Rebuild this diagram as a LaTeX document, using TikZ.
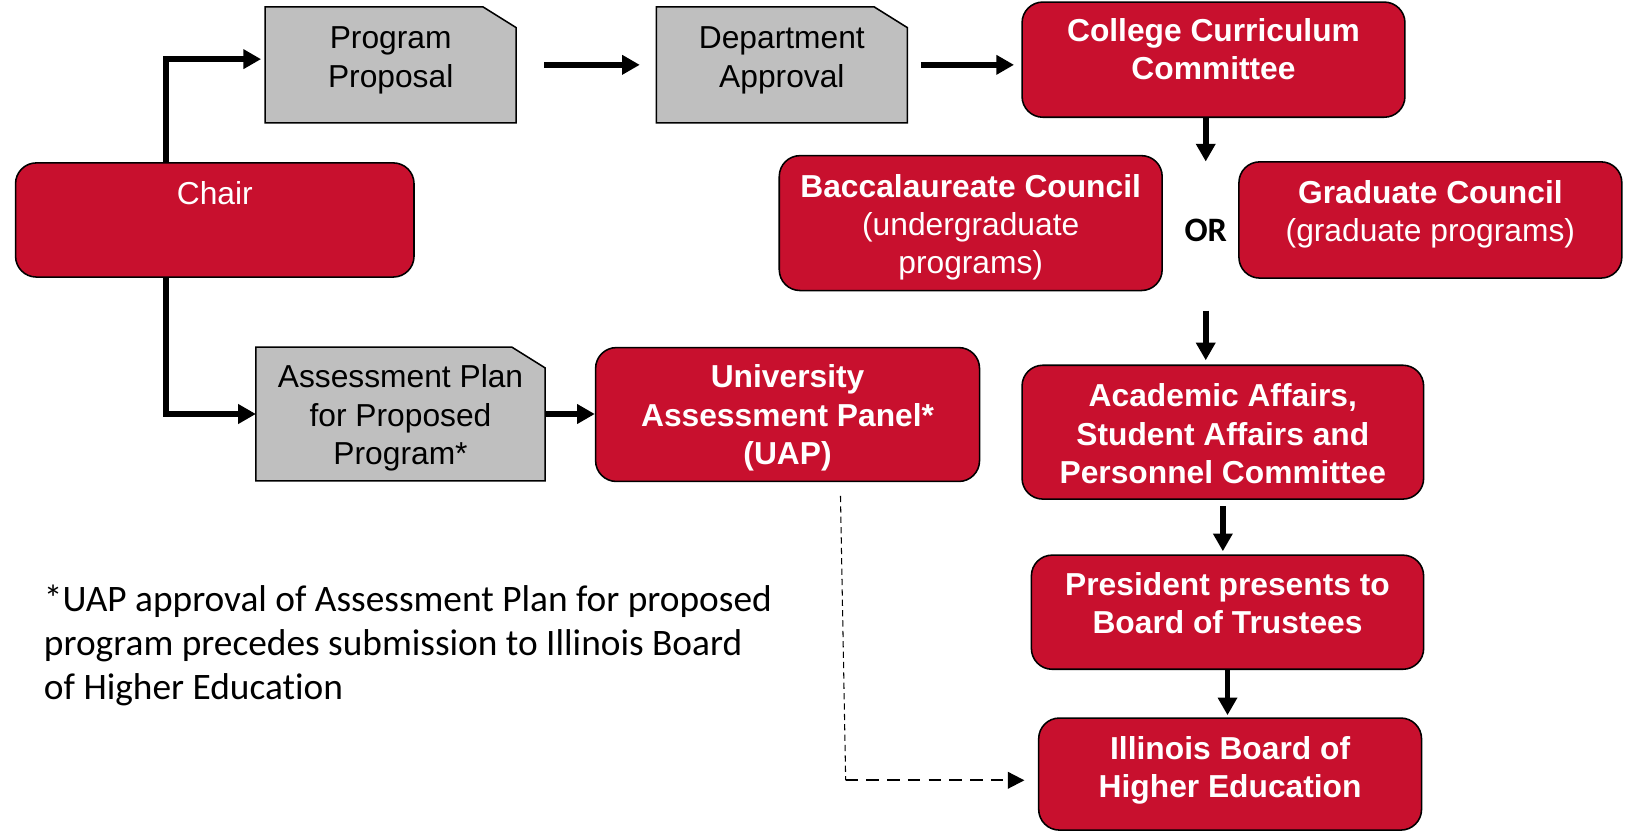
\documentclass[tikz,border=0pt]{standalone}
\usepackage{fontspec}
\setmainfont{Liberation Sans}
\newfontfamily\notefont[Ligatures=NoCommon]{Carlito}
\usetikzlibrary{arrows.meta,backgrounds}
\definecolor{isured}{RGB}{200,16,46}
\definecolor{docgray}{RGB}{191,191,191}
\newcommand{\boxlines}[2][0pt]{\begin{tabular}{@{}c@{}}#2\\[#1]\end{tabular}}
\tikzset{
	redbox/.style={draw=black, line width=0.75pt, fill=isured, text=white, rounded corners=10pt, inner sep=0pt, font=\fontsize{15.3}{18.5}\selectfont\bfseries},
	docbox/.style={inner sep=0pt, font=\fontsize{15.3}{18.5}\selectfont},
	docline/.style={draw=black, line width=0.75pt, fill=docgray},
	flow/.style={line width=2.8pt, -{Triangle[length=8.5pt,width=9pt]}},
	dashflow/.style={line width=1pt, dash pattern=on 6pt off 4pt, -{Triangle[length=8pt,width=8pt]}}
}
\begin{document}
\begin{tikzpicture}
	[x=0.5pt, y=-0.5pt]
	\useasboundingbox (0,0) rectangle (1568,801);
	\node[docbox, minimum width=120.5pt, minimum height=55.5pt] (prop) at (376.5,62.5) {\boxlines[4.5pt]{Program\\Proposal}};
	\node[docbox, minimum width=120.5pt, minimum height=55.5pt] (dept) at (753.5,62.5) {\boxlines[4.5pt]{Department\\Approval}};
	\node[redbox, minimum width=184.5pt, minimum height=55.5pt] (ccc) at (1169.5,57.5) {\boxlines[6.5pt]{College Curriculum\\Committee}};
	\node[redbox, minimum width=192pt, minimum height=55pt] (chair) at (207,212) {\boxlines[22.5pt]{\mdseries Chair}};
	\node[redbox, minimum width=184.5pt, minimum height=65pt] (bacc) at (935.5,215) {\boxlines[-4.5pt]{Baccalaureate Council\\\mdseries (undergraduate\\\mdseries programs)}};
	\node[font=\notefont\fontsize{16.5}{19}\selectfont\bfseries, inner sep=0pt] (or) at (1162,222) {OR};
	\node[redbox, minimum width=184.5pt, minimum height=56pt] (grad) at (1378.5,212) {\boxlines[5pt]{Graduate Council\\\mdseries (graduate programs)}};
	\node[docbox, minimum width=139pt, minimum height=64pt] (plan) at (386,399) {\boxlines[-4.5pt]{Assessment Plan\\for Proposed\\Program*}};
	\node[redbox, minimum width=185pt, minimum height=64.5pt] (uap) at (759,399.5) {\boxlines[-4pt]{University\\Assessment Panel*\\(UAP)}};
	\node[redbox, minimum width=193.5pt, minimum height=64.5pt] (acad) at (1178.5,416.5) {\boxlines[-5pt]{Academic Affairs,\\Student Affairs and\\Personnel Committee}};
	\node[redbox, minimum width=189pt, minimum height=55pt] (pres) at (1183,590) {\boxlines[5pt]{President presents to\\Board of Trustees}};
	\node[redbox, minimum width=184.5pt, minimum height=54pt] (ibhe) at (1185.5,746) {\boxlines[3pt]{Illinois Board of\\Higher Education}};
	\node[font=\notefont\fontsize{18}{21.25}\selectfont, align=left, anchor=west, inner sep=0pt] (note) at (42,622) {*UAP approval of Assessment Plan for proposed\\program precedes submission to Illinois Board\\of Higher Education};
	\begin{pgfonlayer}{background}
		\foreach \d in {prop,dept,plan}
			\draw[docline] (\d.south west) -- (\d.north west) -- ([xshift=-16pt]\d.north east) -- ([yshift=-10pt]\d.north east) -- (\d.south east) -- cycle;
	\end{pgfonlayer}
	\draw[flow, shorten >=2pt] ([xshift=-23.5pt]chair.north) |- ([yshift=2.75pt]prop.west);
	\draw[flow] ([xshift=-23.5pt]chair.south) |- (plan.west);
	\draw[flow, shorten <=13.5pt, shorten >=8pt] (prop.east) -- (dept.west);
	\draw[flow, shorten <=6.5pt, shorten >=3.5pt] (dept.east) -- (dept.east -| ccc.west);
	\draw[flow, shorten >=27.5pt] (or.north |- ccc.south) -- (or.north);
	\draw[flow, shorten <=33pt, shorten >=2pt] (or.south) -- (or.south |- acad.north);
	\draw[flow, shorten <=3pt, shorten >=1.5pt] (acad.south) -- (acad.south |- pres.north);
	\draw[flow, shorten >=1pt] (pres.south) -- (pres.south |- ibhe.north);
	\draw[flow] (plan.east) -- (plan.east -| uap.west);
	\coordinate (dtop) at (810,478);
	\coordinate (dbend) at (815,752);
	\draw[line width=0.5pt, dash pattern=on 3pt off 2pt] (dtop) -- (dbend);
	\draw[dashflow, shorten >=6.5pt] (dbend) -- (dbend -| ibhe.west);
\end{tikzpicture}
\end{document}
